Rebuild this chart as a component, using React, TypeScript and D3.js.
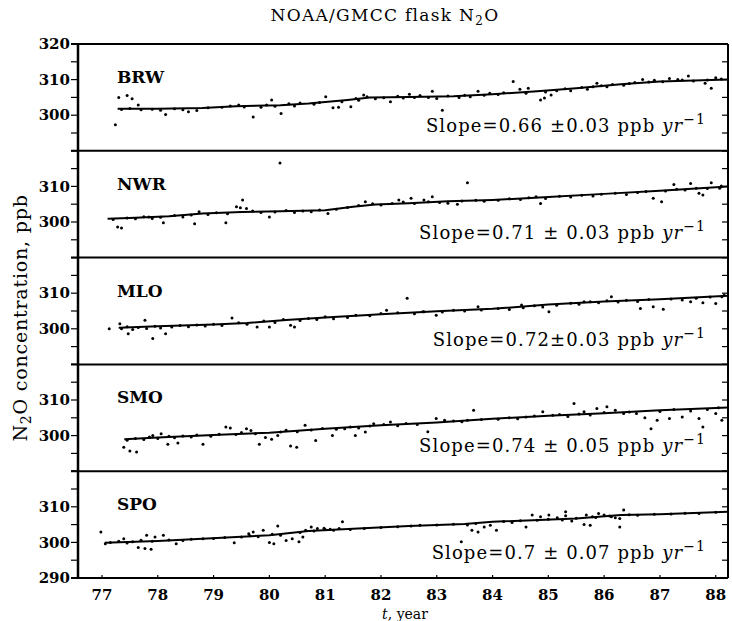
import React from "react";
import * as d3 from "d3";

// stations, top to bottom
const stations = ["BRW", "NWR", "MLO", "SMO", "SPO"];
const slopeLabels = [
  "Slope=0.66 \u00b10.03 ppb ",
  "Slope=0.71 \u00b1 0.03 ppb ",
  "Slope=0.72\u00b10.03 ppb ",
  "Slope=0.74 \u00b1 0.05 ppb ",
  "Slope=0.7 \u00b1 0.07 ppb ",
];
const yearTicks = [77, 78, 79, 80, 81, 82, 83, 84, 85, 86, 87, 88];
const labelTicks = [300, 310];
const minorTicks = [290, 295, 300, 305, 310, 315, 320];

// fitted trend (year, ppb)
const brwTrend = [[77.28, 301.8], [78.0, 301.8], [78.8, 302.0], [79.4, 302.5], [80.2, 302.8], [80.7, 303.3], [81.4, 304.3], [81.8, 305.0], [82.5, 305.1], [83.3, 305.3], [84.0, 305.9], [84.8, 306.7], [85.5, 307.6], [86.3, 308.7], [87.0, 309.5], [88.22, 310.0]];
const nwrTrend = [[77.1, 300.9], [77.6, 301.2], [78.2, 301.6], [78.8, 302.4], [79.5, 302.8], [80.2, 303.0], [81.0, 303.3], [81.5, 304.3], [81.9, 304.9], [82.5, 305.3], [83.2, 305.8], [84.0, 306.2], [85.0, 307.0], [86.0, 307.9], [87.0, 308.8], [88.22, 310.0]];
const mloTrend = [[77.3, 300.3], [78.0, 300.7], [79.0, 301.2], [79.6, 301.6], [80.3, 302.5], [81.0, 303.2], [82.0, 304.1], [83.0, 304.9], [84.0, 305.6], [85.0, 306.8], [86.0, 307.7], [87.0, 308.3], [88.22, 309.3]];
const smoTrend = [[77.4, 299.0], [78.0, 299.5], [79.0, 300.2], [80.0, 300.8], [81.0, 301.9], [82.0, 302.9], [83.0, 303.7], [84.0, 304.7], [85.0, 305.6], [86.0, 306.3], [87.0, 307.1], [88.22, 307.9]];
const spoTrend = [[77.05, 299.9], [78.0, 300.4], [78.8, 301.0], [80.0, 302.0], [80.7, 303.2], [81.5, 303.8], [82.5, 304.6], [83.5, 305.2], [84.0, 305.8], [85.5, 306.7], [86.3, 307.7], [87.0, 307.9], [88.22, 308.6]];

// flask samples (year, ppb)
const brwFlask = [
  [77.24, 297.3], [77.3, 305.0], [77.45, 305.5], [77.54, 304.6], [77.65, 302.9], [78.14, 300.2], [78.55, 301.0], [79.71, 299.5], [80.04, 304.3], [80.21, 300.5],
  [81.01, 305.2], [81.14, 302.1], [81.24, 302.2], [81.46, 302.4], [81.69, 305.7], [82.17, 303.8], [82.51, 305.9], [82.92, 306.7], [83.1, 301.4], [83.74, 306.7],
  [84.37, 309.5], [84.49, 307.3], [84.64, 307.6], [84.86, 304.3], [84.93, 304.8], [85.05, 305.7], [85.87, 309.0], [86.69, 310.0], [87.17, 310.3], [87.32, 310.0],
  [87.51, 311.0], [87.81, 309.0], [87.92, 307.6], [88.0, 310.5],
  [77.35, 301.6], [77.5, 301.9], [77.7, 301.5], [77.9, 301.7], [78.05, 301.4], [78.3, 301.8], [78.45, 301.5], [78.7, 301.3], [78.9, 302.1], [79.15, 302.2],
  [79.3, 302.6], [79.45, 302.9], [79.55, 302.3], [79.85, 302.2], [79.95, 302.9], [80.1, 302.5], [80.35, 303.2], [80.45, 302.6], [80.55, 303.4], [80.8, 303.1],
  [80.9, 303.6], [81.3, 303.8], [81.55, 304.7], [81.6, 304.2], [81.75, 305.2], [81.9, 304.6], [82.05, 304.9], [82.3, 305.3], [82.4, 304.8], [82.6, 305.0],
  [82.7, 305.5], [82.85, 305.0], [83.0, 304.7], [83.2, 305.4], [83.4, 305.0], [83.5, 305.6], [83.6, 305.2], [83.85, 305.6], [83.95, 306.2], [84.1, 305.8],
  [84.2, 306.3], [84.6, 306.2], [84.95, 306.5], [85.15, 306.9], [85.3, 307.4], [85.4, 306.9], [85.6, 307.8], [85.7, 307.3], [85.8, 308.0], [85.95, 308.3],
  [86.05, 308.0], [86.15, 308.6], [86.35, 308.4], [86.45, 308.9], [86.55, 309.2], [86.8, 309.3], [86.9, 309.8], [87.05, 309.4], [87.4, 309.9], [87.6, 309.6],
  [87.85, 309.9], [88.1, 310.2],
];
const nwrFlask = [
  [77.28, 298.6], [77.35, 298.3], [77.84, 301.4], [78.1, 299.8], [78.66, 299.5], [78.74, 302.9], [79.22, 299.8], [79.52, 306.2], [79.41, 304.3], [79.48, 304.0],
  [79.59, 303.8], [80.0, 301.4], [80.19, 316.6], [81.05, 302.4], [81.72, 305.7], [82.32, 306.2], [82.54, 306.7], [82.77, 306.2], [82.92, 307.1], [83.55, 311.0],
  [83.37, 305.0], [84.78, 307.1], [84.86, 305.2], [86.88, 306.7], [87.03, 305.7], [87.25, 310.5], [87.55, 310.8], [87.7, 308.1], [87.77, 307.6], [87.92, 311.0],
  [88.07, 309.5],
  [77.2, 300.7], [77.45, 301.1], [77.6, 300.9], [77.75, 301.5], [77.9, 301.0], [78.05, 301.3], [78.3, 301.8], [78.45, 301.4], [78.6, 302.0], [78.9, 302.1],
  [79.05, 302.6], [79.25, 302.3], [79.7, 303.1], [79.85, 302.7], [80.1, 302.8], [80.3, 303.2], [80.45, 302.7], [80.6, 303.1], [80.75, 302.9], [80.9, 303.4],
  [81.2, 303.6], [81.4, 304.1], [81.6, 304.6], [81.85, 305.1], [82.0, 304.8], [82.2, 305.2], [82.4, 305.6], [82.6, 305.2], [82.85, 305.7], [83.05, 305.5],
  [83.2, 305.3], [83.45, 305.9], [83.7, 306.1], [83.85, 305.8], [84.1, 306.1], [84.3, 306.5], [84.5, 306.3], [84.65, 306.8], [84.95, 306.6], [85.2, 307.2],
  [85.4, 307.0], [85.6, 307.5], [85.8, 307.3], [85.95, 307.8], [86.2, 308.1], [86.4, 307.7], [86.6, 308.3], [86.75, 308.6], [87.1, 308.7], [87.3, 309.2],
  [87.45, 309.0], [87.65, 309.5], [87.85, 309.4], [88.1, 310.1],
];
const mloFlask = [
  [77.13, 300.0], [77.32, 301.4], [77.77, 302.4], [77.47, 298.6], [77.91, 297.3], [78.14, 298.6], [79.33, 303.0], [79.78, 300.5], [80.0, 300.5], [80.38, 301.0],
  [80.45, 300.5], [82.1, 305.2], [82.47, 308.6], [82.77, 304.8], [82.99, 303.8], [83.74, 306.2], [84.52, 306.7], [85.01, 304.8], [85.64, 307.6], [86.13, 309.0],
  [86.65, 305.7], [86.88, 306.2], [87.06, 305.5], [87.55, 307.6], [87.77, 307.3], [88.0, 307.1], [88.11, 309.0],
  [77.35, 300.0], [77.45, 300.6], [77.55, 299.8], [77.65, 300.4], [77.8, 300.1], [77.95, 300.7], [78.05, 300.2], [78.25, 300.5], [78.4, 300.9], [78.55, 300.6],
  [78.7, 301.1], [78.85, 300.8], [79.0, 301.3], [79.15, 300.9], [79.45, 301.7], [79.6, 301.3], [79.9, 302.2], [80.1, 301.8], [80.25, 302.6], [80.55, 302.3],
  [80.7, 302.9], [80.85, 302.6], [81.0, 303.4], [81.15, 302.8], [81.4, 303.2], [81.55, 303.8], [81.8, 303.7], [82.0, 304.3], [82.3, 304.5], [82.6, 304.2],
  [82.75, 304.8], [83.1, 304.7], [83.3, 305.2], [83.5, 305.0], [83.8, 305.3], [84.1, 305.7], [84.3, 305.4], [84.55, 305.9], [84.75, 306.5], [84.9, 306.1],
  [85.15, 306.6], [85.4, 307.2], [85.55, 306.9], [85.75, 307.6], [85.9, 307.3], [86.05, 307.9], [86.25, 307.5], [86.4, 308.0], [86.6, 307.7], [86.8, 308.2],
  [87.2, 308.4], [87.4, 308.1], [87.65, 308.6], [87.9, 308.9], [88.15, 309.4],
];
const smoFlask = [
  [77.39, 296.7], [77.5, 295.7], [77.62, 295.4], [77.91, 300.0], [78.06, 300.5], [78.18, 297.6], [78.36, 297.9], [78.81, 297.6], [79.22, 302.4], [79.3, 302.1],
  [79.59, 301.9], [79.67, 301.4], [79.82, 297.6], [79.93, 299.5], [80.04, 299.0], [80.15, 300.0], [80.38, 297.1], [80.49, 296.7], [80.64, 302.9], [80.83, 298.6],
  [81.13, 300.0], [81.35, 301.9], [81.54, 300.0], [81.72, 301.0], [81.87, 303.3], [82.17, 303.8], [82.84, 301.1], [82.99, 304.8], [83.14, 304.3], [83.66, 307.1],
  [84.9, 306.7], [85.08, 305.7], [85.46, 309.0], [85.64, 306.7], [85.87, 307.6], [86.05, 308.1], [86.2, 307.1], [86.58, 306.2], [86.73, 305.0], [86.84, 301.9],
  [86.95, 304.3], [87.17, 304.8], [87.4, 305.2], [87.7, 304.8], [87.77, 302.4], [88.0, 306.2], [88.11, 304.3],
  [77.45, 298.7], [77.6, 299.2], [77.75, 298.9], [77.85, 299.6], [78.0, 299.2], [78.2, 299.8], [78.3, 299.4], [78.45, 299.9], [78.6, 299.6], [78.7, 300.2],
  [78.95, 299.8], [79.1, 300.4], [79.4, 300.3], [79.5, 300.9], [79.75, 300.5], [80.2, 301.0], [80.3, 301.5], [80.5, 301.1], [80.75, 301.6], [80.95, 302.0],
  [81.2, 301.8], [81.45, 302.4], [81.6, 302.1], [81.8, 302.7], [82.05, 303.1], [82.3, 302.8], [82.45, 303.4], [82.65, 303.1], [83.3, 304.1], [83.45, 303.9],
  [83.55, 304.3], [83.8, 304.5], [84.1, 304.6], [84.3, 305.0], [84.45, 304.7], [84.6, 305.2], [84.75, 305.5], [85.2, 305.9], [85.35, 305.4], [85.55, 306.1],
  [85.75, 305.8], [86.0, 306.5], [86.35, 306.2], [86.45, 306.6], [87.0, 306.8], [87.25, 307.3], [87.55, 306.9], [87.85, 307.3], [88.05, 307.8],
];
const spoFlask = [
  [76.98, 302.9], [77.06, 299.6], [77.39, 301.0], [77.65, 298.6], [77.77, 298.3], [77.88, 298.1], [77.8, 302.0], [77.95, 301.5], [78.1, 302.0], [78.33, 299.6],
  [78.81, 301.0], [79.37, 299.9], [79.63, 302.4], [79.71, 302.9], [79.89, 303.4], [80.0, 300.0], [80.08, 299.6], [80.15, 304.6], [80.3, 300.5], [80.41, 301.0],
  [80.53, 300.2], [80.6, 301.5], [80.75, 304.3], [80.86, 303.9], [80.98, 304.0], [81.09, 303.7], [81.31, 305.8], [82.54, 304.6], [83.44, 300.2], [83.63, 303.4],
  [83.74, 302.9], [83.85, 304.3], [83.96, 304.8], [84.07, 303.4], [84.6, 304.3], [84.71, 307.7], [84.86, 307.2], [85.01, 307.7], [85.16, 306.9], [85.31, 307.5],
  [85.31, 308.6], [85.42, 306.0], [85.68, 307.7], [85.79, 307.2], [85.9, 308.1], [86.0, 307.7], [85.64, 305.0], [85.75, 304.8], [86.13, 307.2], [86.28, 306.7],
  [86.35, 309.1], [86.28, 304.3],
  [77.15, 300.0], [77.3, 300.3], [77.45, 299.8], [77.55, 300.2], [77.7, 300.6], [77.9, 300.3], [78.2, 300.7], [78.45, 300.5], [78.6, 300.9], [79.0, 301.1],
  [79.2, 301.4], [79.5, 301.5], [79.65, 301.9], [79.8, 301.6], [80.05, 302.3], [80.2, 302.0], [80.55, 302.8], [80.65, 303.4], [80.8, 303.2], [81.0, 303.6],
  [81.15, 303.4], [81.25, 303.9], [81.45, 303.6], [81.7, 303.9], [82.0, 304.2], [82.3, 304.4], [82.7, 304.8], [83.0, 304.9], [83.3, 305.1], [83.55, 304.9],
  [83.7, 305.3], [84.2, 305.9], [84.35, 305.6], [84.5, 306.1], [84.8, 306.2], [85.0, 306.5], [85.25, 306.3], [85.5, 306.8], [85.85, 307.0], [86.1, 307.4],
  [86.2, 306.9], [86.45, 307.8], [86.6, 307.6], [86.9, 307.9], [87.2, 308.0], [87.45, 308.2], [87.7, 308.1], [88.0, 308.5],
];

const trends = [brwTrend, nwrTrend, mloTrend, smoTrend, spoTrend];
const flasks = [brwFlask, nwrFlask, mloFlask, smoFlask, spoFlask];

const W = 732;
const H = 621;
const left = 78;
const right = 728;
const top = 44;
const bottom = 578;
const panelH = (bottom - top) / stations.length;
const serif = "'DejaVu Serif', 'Liberation Serif', serif";

const x = d3.scaleLinear().domain([76.57, 88.22]).range([left, right]);

function Panel({ i }: { i: number }) {
  const pTop = top + i * panelH;
  const y = d3.scaleLinear().domain([290, 320]).range([pTop + panelH, pTop]);
  const line = d3
    .line<number[]>()
    .x(d => x(d[0]))
    .y(d => y(d[1]));
  const shown = labelTicks.slice();
  if (i === 0) shown.push(320);
  if (i === stations.length - 1) shown.push(290);
  return (
    <g>
      {minorTicks.map(t => (
        <g key={t}>
          <line x1={left - 7} x2={left} y1={y(t)} y2={y(t)} stroke="#000" strokeWidth={1.2} />
          <line x1={right - 6} x2={right} y1={y(t)} y2={y(t)} stroke="#000" strokeWidth={1.2} />
        </g>
      ))}
      {shown.map(t => (
        <text key={t} x={left - 8} y={y(t)} dy="0.35em" textAnchor="end"
          fontFamily={serif} fontWeight="bold" fontSize={15}>{t}</text>
      ))}
      <path d={line(trends[i]) || ""} fill="none" stroke="#000" strokeWidth={2} />
      {flasks[i].map((d, k) => (
        <circle key={k} cx={x(d[0])} cy={y(d[1])} r={1.5} fill="#000" />
      ))}
      <text x={left + 39} y={pTop + 39} fontFamily={serif} fontWeight="bold" fontSize={17}>
        {stations[i]}
      </text>
      <text x={right - 22} y={pTop + 88} textAnchor="end" fontFamily={serif} fontSize={18}
        letterSpacing={1.1}>
        {slopeLabels[i]}
        <tspan fontStyle="italic">yr</tspan>
        <tspan dy={-8} fontSize={14}>{"\u22121"}</tspan>
      </text>
    </g>
  );
}

export default function App() {
  return (
    <svg width={W} height={H} style={{ position: "absolute", left: 0, top: 0, background: "#fff" }}>
      <rect x={0} y={0} width={W} height={H} fill="#fff" />
      <text x={385} y={21} textAnchor="middle" fontFamily={serif} fontSize={17} letterSpacing={1.3}>
        NOAA/GMCC flask N<tspan dy={4} fontSize={12}>2</tspan><tspan dy={-4}>O</tspan>
      </text>
      {stations.map((s, i) => (
        <Panel key={s} i={i} />
      ))}
      {/* frame and panel separators */}
      {d3.range(stations.length + 1).map(k => (
        <line key={k} x1={left - 7} x2={right} y1={top + k * panelH} y2={top + k * panelH}
          stroke="#000" strokeWidth={2} />
      ))}
      <line x1={left} x2={left} y1={top} y2={bottom} stroke="#000" strokeWidth={2.5} />
      <line x1={right} x2={right} y1={top} y2={bottom} stroke="#000" strokeWidth={2} />
      {yearTicks.map(t => (
        <g key={t}>
          <line x1={x(t)} x2={x(t)} y1={bottom} y2={bottom - 3} stroke="#000" strokeWidth={1.2} />
          <text x={x(t)} y={bottom + 22} textAnchor="middle" fontFamily={serif}
            fontWeight="bold" fontSize={15}>{t}</text>
        </g>
      ))}
      <text x={405} y={619} textAnchor="middle" fontFamily={serif} fontSize={14}>
        <tspan fontStyle="italic">t</tspan>, year
      </text>
      <text transform="translate(27,318) rotate(-90)" textAnchor="middle" fontFamily={serif} fontSize={19}
        letterSpacing={0.8}>
        N<tspan dy={4} fontSize={14}>2</tspan><tspan dy={-4}>O concentration, ppb</tspan>
      </text>
    </svg>
  );
}
